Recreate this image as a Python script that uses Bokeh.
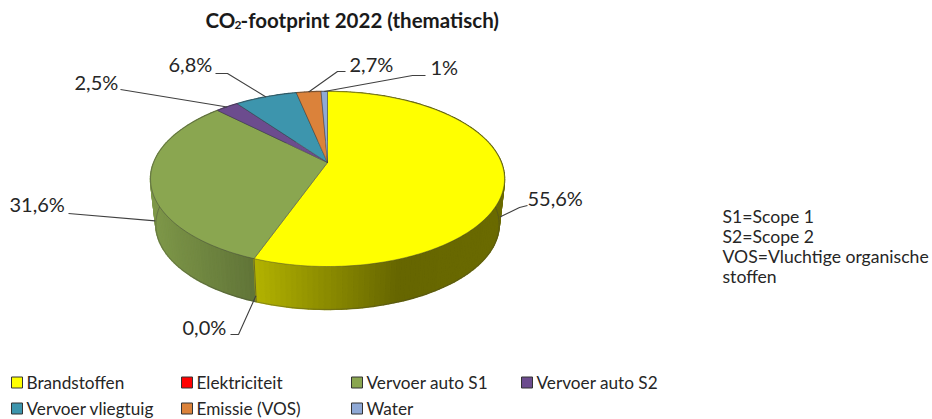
import numpy as np
from bokeh.plotting import figure
from bokeh.models import Range1d
from bokeh.core.properties import value
from bokeh.embed import file_html
from bokeh.resources import INLINE

# ---- data ----
categories = ["Brandstoffen", "Elektriciteit", "Vervoer auto S1", "Vervoer auto S2",
              "Vervoer vliegtuig", "Emissie (VOS)", "Water"]
values = [55.6, 0.0, 31.6, 2.5, 6.8, 2.7, 0.7]
labels = ["55,6%", "0,0%", "31,6%", "2,5%", "6,8%", "2,7%", "1%"]
notes = ["S1=Scope 1", "S2=Scope 2", "VOS=Vluchtige organische", "stoffen"]

# ---- style ----
colors = ["#FFFF00", "#FF0000", "#8AA650", "#6C4C8E", "#3D95AD", "#DB823A", "#8FA9D6"]
rgb = [tuple(int(c[i:i + 2], 16) for i in (1, 3, 5)) for c in colors]
EDGE = "#3c3c3c"

# ---- layout (page pixels) ----
CX, CY, A, B, K = 327.0, 162.0, 173.8, 84.4, 0.1886
BOTTOM_SCALE, BOTTOM_Y = 0.97, 208.0
WALL_TIP = 0.86
label_pos = [(527, 197), (182, 326), (9, 203), (74, 81), (168, 63), (349, 63), (430, 66)]
elbows = [[(527, 205), (519, 207)], [(230, 334), (238, 334)], [(68, 213), (68, 213)],
          [(120, 89), (120, 89)], [(215, 73), (227, 73)], [(345, 71), (337, 71)], [(425, 75), (412, 75)]]
legend_x = [11, 181, 351, 521]
legend_y = [382, 408]


def project(theta, bottom=False):
    """theta in radians, clockwise from the top of the pie."""
    u, v = np.sin(theta), -np.cos(theta)
    w = 1 - K * v
    x, y = A * u / w, B * v / w
    if bottom:
        return CX + BOTTOM_SCALE * x, BOTTOM_Y + BOTTOM_SCALE * y
    return CX + x, CY + y


def shade(x):
    return np.interp(x - CX, [-177, -72, 70, 177], [0.92, 0.70, 0.40, 0.42])


total = sum(values)
edges = np.concatenate([[0], np.cumsum(values)]) / total * 2 * np.pi

p = figure(width=932, height=419, x_range=Range1d(0, 932), y_range=Range1d(419, 0),
           output_backend="svg", toolbar_location=None, min_border=0,
           outline_line_color=None, background_fill_color="white", border_fill_color="white")
p.axis.visible = False
p.grid.visible = False

# side wall
strips = []
for i in range(len(values)):
    if values[i] <= 0:
        continue
    n = max(2, int(np.degrees(edges[i + 1] - edges[i]) / 1.5))
    ts = np.linspace(edges[i], edges[i + 1], n + 1)
    for k, (t0, t1) in enumerate(zip(ts[:-1], ts[1:])):
        tx0, ty0 = project(t0)
        tx1, ty1 = project(t1)
        bx0, by0 = project(t0, True)
        bx1, by1 = project(t1, True)
        s = shade((tx0 + tx1) / 2)
        r, g, b = rgb[i]
        c = "#%02x%02x%02x" % (int(r * s), int(g * s), int(b * s))
        strips.append((-np.cos((t0 + t1) / 2), [tx0, tx1, bx1, bx0], [ty0, ty1, by1, by0], c))
strips.sort(key=lambda q: q[0])
p.patches([q[1] for q in strips], [q[2] for q in strips], fill_color=[q[3] for q in strips],
          line_color=[q[3] for q in strips], line_width=1.6)

# outline of the lower rim and slice seams on the wall
tt = np.radians(np.arange(85, 285, 1.0))
bx, by = project(tt, True)
p.line(bx, by, line_color=EDGE, line_width=0.5, line_alpha=0.7)
for i in range(len(values)):
    t = edges[i + 1]
    if values[i] > 0 and 0 < -np.cos(t) and t < 2 * np.pi - 1e-6:
        x0, y0 = project(t)
        x1, y1 = project(t, True)
        p.line([x0, x1], [y0, y1], line_color=EDGE, line_width=0.6)

# top faces
for i in range(len(values)):
    if values[i] <= 0:
        continue
    ts = np.linspace(edges[i], edges[i + 1], max(3, int(np.degrees(edges[i + 1] - edges[i]))))
    x, y = project(ts)
    p.patch(np.r_[CX, x], np.r_[CY, y], fill_color=colors[i], line_color=EDGE, line_width=0.5, line_alpha=0.85)

# labels and leaders
for i, lab in enumerate(labels):
    mid = (edges[i] + edges[i + 1]) / 2
    tip = project(mid)
    if np.cos(mid) <= 0:
        # front-facing slices: the leader meets the wall, low down
        b_ = project(mid, True)
        tip = (tip[0] + WALL_TIP * (b_[0] - tip[0]), tip[1] + WALL_TIP * (b_[1] - tip[1]))
    pts = elbows[i] + [tip]
    p.line([q[0] for q in pts], [q[1] for q in pts], line_color="#404040", line_width=1.1)
    p.text([label_pos[i][0]], [label_pos[i][1]], text=[lab], text_font=value("Lato"),
           text_font_size=value("20px"), text_color="#262626", text_baseline="middle", text_align="left")

# title
for x, t, size in [(205, "CO", "20.5px"), (234, "2", "12px"), (240, "-footprint 2022 (thematisch)", "20.5px")]:
    p.text([x], [24.5 if t == "2" else 19.5], text=[t], text_font=value("Lato"), text_font_size=value(size),
           text_font_style="bold", text_color="#1a1a1a", text_baseline="middle", text_align="left")

# notes
for j, n in enumerate(notes):
    p.text([722], [216 + j * 20], text=[n], text_font=value("Lato"), text_font_size=value("17.6px"),
           text_color="#262626", text_baseline="middle", text_align="left")

# legend
for i, cat in enumerate(categories):
    lx = legend_x[i % 4]
    ly = legend_y[i // 4]
    p.rect([lx + 5.5], [ly], width=11, height=11, fill_color=colors[i], line_color="#333333", line_width=1)
    p.text([lx + 15], [ly], text=[cat], text_font=value("Lato"), text_font_size=value("17.2px"),
           text_color="#262626", text_baseline="middle", text_align="left")

open("out.html", "w").write(file_html(p, INLINE))
